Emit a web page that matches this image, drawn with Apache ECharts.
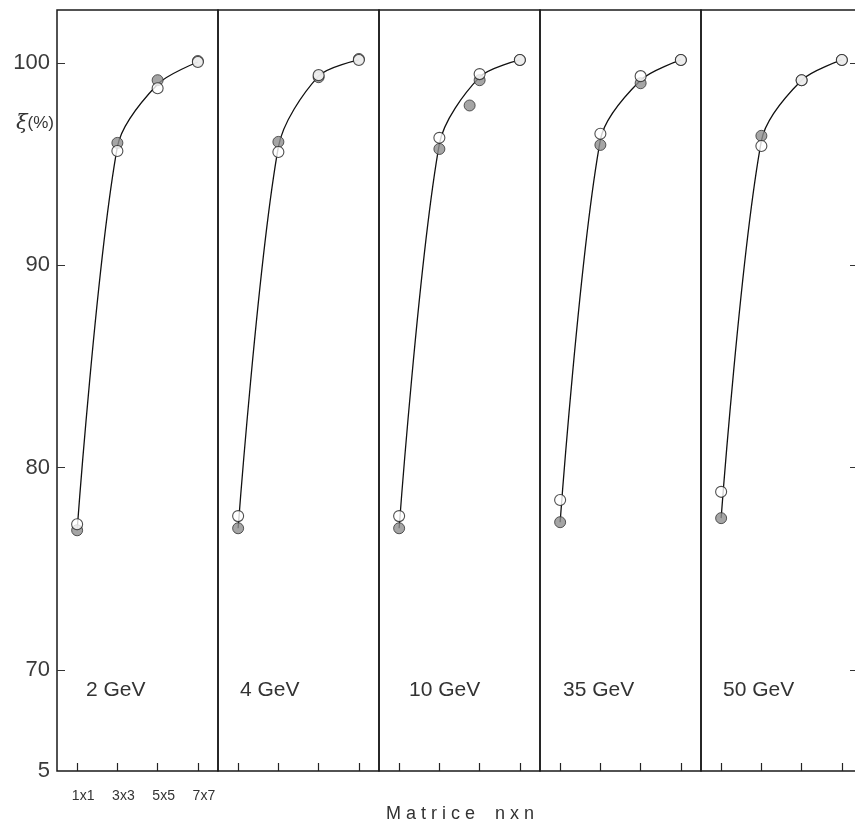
<!DOCTYPE html>
<html>
<head>
<meta charset="utf-8">
<script src="https://cdn.jsdelivr.net/npm/echarts@6/dist/echarts.min.js"></script>
<style>
  html, body { margin: 0; padding: 0; background: #fff; overflow: hidden; }
  #chart { width: 872px; height: 834px; }
</style>
</head>
<body>
<div id="chart"></div>
<script>
// ---- data ----
const categories = ['1x1', '3x3', '5x5', '7x7'];
const energies = ['2 GeV', '4 GeV', '10 GeV', '35 GeV', '50 GeV'];

// open (white) circles, one array per energy panel
const open2 = [77.2, 95.65, 98.75, 100.05];
const open4 = [77.6, 95.6, 99.4, 100.15];
const open10 = [77.6, 96.3, 99.45, 100.15];
const open35 = [78.4, 96.5, 99.35, 100.15];
const open50 = [78.8, 95.9, 99.15, 100.15];

// filled (grey) circles
const filled2 = [76.9, 96.05, 99.15, 100.1];
const filled4 = [77.0, 96.1, 99.3, 100.2];
const filled10 = [77.0, 95.75, 99.15, 100.15];
const filled35 = [77.3, 95.95, 99.0, 100.15];
const filled50 = [77.5, 96.4, 99.15, 100.15];
const extraFilled10 = [null, null, 97.9, null]; // stray point near 5x5 in the 10 GeV panel

// hand-drawn fit curve through each panel
const curve2 = [76.9, 95.85, 98.95, 100.05];
const curve4 = [77.0, 95.85, 99.35, 100.15];
const curve10 = [77.0, 96.0, 99.3, 100.15];
const curve35 = [77.3, 96.2, 99.15, 100.15];
const curve50 = [77.5, 96.15, 99.15, 100.15];

const yTickValues = [70, 80, 90, 100];
const yLabelValues = [65, 70, 80, 90, 100];
const yLabelText = { 65: '5', 70: '70', 80: '80', 90: '90', 100: '100' };

const openSets = [open2, open4, open10, open35, open50];
const filledSets = [filled2, filled4, filled10, filled35, filled50];
const curveSets = [curve2, curve4, curve10, curve35, curve50];

// ---- layout ----
const PANEL_W = 161, LEFT0 = 57, TOP = 10, HEIGHT = 761;
const Y_MIN = 65, Y_MAX = 102.62;
const FONT = 'Liberation Sans, Arial, sans-serif';
const labelOffsets = [29, 22, 30, 23, 22];

const chart = echarts.init(document.getElementById('chart'), null, { renderer: 'canvas' });

const grids = [], xAxes = [], yAxes = [], series = [], graphics = [];

energies.forEach((e, i) => {
  const left = LEFT0 + i * PANEL_W;
  grids.push({
    left: left, top: TOP, width: PANEL_W, height: HEIGHT,
    show: true, borderColor: '#1a1a1a', borderWidth: 1.5, backgroundColor: 'transparent'
  });
  xAxes.push({
    type: 'category', gridIndex: i, data: categories, boundaryGap: true,
    axisLine: { show: false },
    axisTick: { show: true, inside: true, alignWithLabel: true, length: 8, lineStyle: { color: '#222', width: 1.2 } },
    axisLabel: {
      show: i === 0, fontSize: 14, color: '#333', fontFamily: FONT, margin: 18,
      padding: [0, 0, 0, 12]
    },
    splitLine: { show: false }
  });
  yAxes.push({
    type: 'value', gridIndex: i, min: Y_MIN, max: Y_MAX,
    axisLine: { show: false },
    splitLine: { show: false },
    axisTick: i === 0
      ? { show: true, inside: true, length: 8, customValues: yTickValues, lineStyle: { color: '#333', width: 1 } }
      : { show: false },
    axisLabel: i === 0
      ? { show: true, customValues: yLabelValues, fontSize: 22, color: '#3a3a3a', fontFamily: FONT, margin: 7,
          formatter: v => yLabelText[v] !== undefined ? yLabelText[v] : '' }
      : { show: false }
  });

  series.push({
    type: 'line', xAxisIndex: i, yAxisIndex: i, data: curveSets[i],
    smooth: 0.3, symbol: 'none', lineStyle: { color: '#111', width: 1.3 }, z: 2, silent: true
  });
  series.push({
    type: 'scatter', xAxisIndex: i, yAxisIndex: i, data: filledSets[i],
    symbol: 'circle', symbolSize: 11,
    itemStyle: { color: '#8f8f8f', borderColor: '#333', borderWidth: 1 }, z: 3
  });
  series.push({
    type: 'scatter', xAxisIndex: i, yAxisIndex: i, data: openSets[i],
    symbol: 'circle', symbolSize: 11,
    itemStyle: { color: '#fff', borderColor: '#222', borderWidth: 1.1 }, z: 4
  });

  graphics.push({
    type: 'text', left: left + labelOffsets[i], top: 680,
    style: { text: e, fontSize: 21, fill: '#333', fontFamily: FONT }
  });
});

// stray point in 10 GeV panel (slightly left of the 5x5 tick)
series.push({
  type: 'scatter', xAxisIndex: 2, yAxisIndex: 2, data: extraFilled10,
  symbol: 'circle', symbolSize: 11, symbolOffset: [-10, 0],
  itemStyle: { color: '#8f8f8f', borderColor: '#333', borderWidth: 1 }, z: 3
});

// right-hand inward ticks of the frame (last panel)
yAxes.push({
  type: 'value', gridIndex: 4, position: 'right', min: Y_MIN, max: Y_MAX,
  axisLine: { show: false }, splitLine: { show: false },
  axisTick: { show: true, inside: true, length: 12, customValues: yTickValues, lineStyle: { color: '#333', width: 1 } },
  axisLabel: { show: false }
});

graphics.push({
  type: 'text', left: 16, top: 113,
  style: {
    text: '{a|ξ}{b|(%)}',
    rich: {
      a: { fontSize: 21, fontStyle: 'italic', fontFamily: 'DejaVu Serif, serif', fill: '#333' },
      b: { fontSize: 17, fontFamily: FONT, fill: '#333' }
    }
  }
});
graphics.push({
  type: 'text', left: 386, top: 805,
  style: { text: 'M a t r i c e    n x n', fontSize: 18, fill: '#333', fontFamily: FONT }
});

chart.setOption({
  animation: false,
  backgroundColor: '#fff',
  grid: grids,
  xAxis: xAxes,
  yAxis: yAxes,
  series: series,
  graphic: graphics
});
</script>
</body>
</html>
